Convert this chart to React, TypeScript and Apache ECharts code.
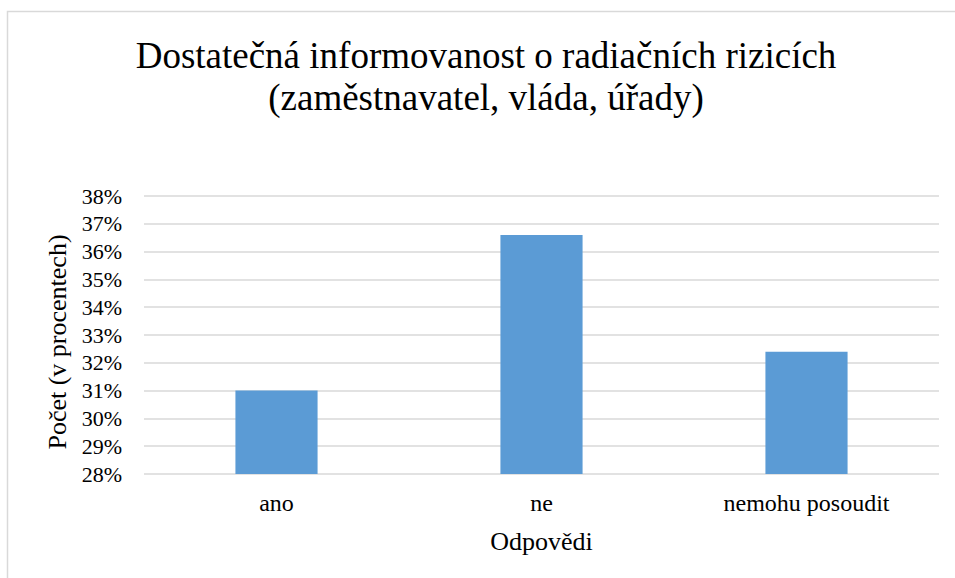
import React, { useEffect, useRef } from "react";
import * as echarts from "echarts";

const categories = ["ano", "ne", "nemohu posoudit"];
const values = [31.0, 36.6, 32.4];
const titleLines = ["Dostatečná informovanost o radiačních rizicích", "(zaměstnavatel, vláda, úřady)"];
const yAxisName = "Počet (v procentech)";
const xAxisName = "Odpovědi";

const FONT = "Liberation Serif, Times New Roman, serif";

export default function App() {
  const ref = useRef<HTMLDivElement>(null);
  useEffect(() => {
    if (!ref.current) return;
    const chart = echarts.init(ref.current, null, { renderer: "svg" });
    chart.setOption({
      animation: false,
      backgroundColor: "#ffffff",
      textStyle: { fontFamily: FONT },
      title: {
        text: titleLines.join("\n"),
        left: 481,
        textAlign: "center",
        top: 29,
        textStyle: {
          fontFamily: FONT,
          fontSize: 37,
          fontWeight: "normal",
          color: "#000000",
          lineHeight: 42,
        },
      },
      graphic: [
        {
          type: "rect",
          shape: { x: 7.5, y: 11.5, width: 1200, height: 1200 },
          style: { fill: "none", stroke: "#d9d9d9", lineWidth: 1.5 },
          silent: true,
        },
      ],
      grid: { left: 144, right: 16, top: 196, bottom: 104 },
      xAxis: {
        type: "category",
        data: categories,
        name: xAxisName,
        nameLocation: "middle",
        nameGap: 54,
        nameTextStyle: { fontFamily: FONT, fontSize: 26, color: "#000000" },
        axisLine: { show: false },
        axisTick: { show: false },
        axisLabel: { fontFamily: FONT, fontSize: 24, color: "#000000", margin: 17 },
      },
      yAxis: {
        type: "value",
        min: 28,
        max: 38,
        interval: 1,
        name: yAxisName,
        nameLocation: "middle",
        nameGap: 69,
        nameTextStyle: { fontFamily: FONT, fontSize: 26, color: "#000000", padding: [0, 14, 0, 0] },
        axisLine: { show: false },
        axisTick: { show: false },
        axisLabel: { fontFamily: FONT, fontSize: 22, color: "#000000", margin: 22, formatter: "{value}%" },
        splitLine: { lineStyle: { color: "#d9d9d9", width: 1.5 } },
      },
      series: [
        {
          type: "bar",
          data: values,
          barWidth: "31%",
          itemStyle: { color: "#5b9bd5" },
        },
      ],
    });
    return () => chart.dispose();
  }, []);
  return <div ref={ref} style={{ position: "absolute", left: 0, top: 0, width: 955, height: 578 }} />;
}
